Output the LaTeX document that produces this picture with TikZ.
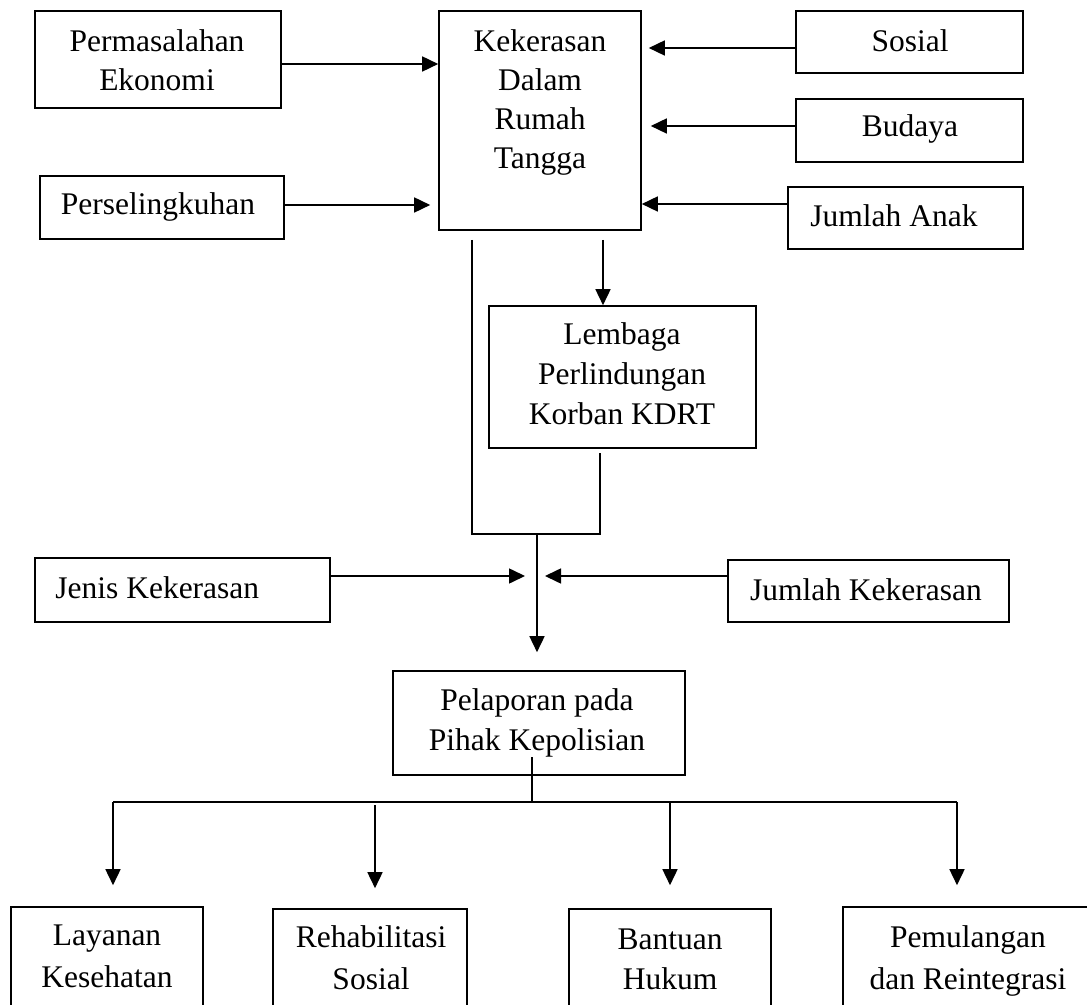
\documentclass[tikz,border=0pt]{standalone}
\usepackage{fontspec}
\setmainfont{Liberation Serif}
\usetikzlibrary{arrows.meta,fit}
\newcommand\mlines[2]{\vtop{\baselineskip=#1\lineskiplimit=-20pt\lineskip=0pt\halign{\hfil##\hfil\cr #2\crcr}}}
\begin{document}
\begin{tikzpicture}[x=0.5pt,y=-0.5pt,
  box/.style={draw, line width=0.8pt, inner sep=0pt},
  txt/.style={inner sep=0pt, anchor=base, font=\fontsize{15.75}{18}\selectfont},
  ln/.style={line width=0.8pt},
  arr/.style={ln, -{Triangle[length=8pt,width=7.5pt]}}]
\useasboundingbox (0,0) rectangle (1087,1005);
\clip (0,0) rectangle (1087,1005);
% boxes
\node[box, fit={(35,11) (281,108)}] (perm) {};
\node[box, fit={(40,176) (284,239)}] (pers) {};
\node[box, fit={(439,11) (641,230)}] (kdrt) {};
\node[box, fit={(796,11) (1023,73)}] (sos) {};
\node[box, fit={(796,99) (1023,162)}] (bud) {};
\node[box, fit={(788,187) (1023,249)}] (ja) {};
\node[box, fit={(489,306) (756,448)}] (lem) {};
\node[box, fit={(35,558) (330,622)}] (jen) {};
\node[box, fit={(728,560) (1009,622)}] (jk) {};
\node[box, fit={(393,671) (685,775)}] (pel) {};
\node[box, fit={(11,907) (203,1040)}] (lay) {};
\node[box, fit={(273,909) (467,1040)}] (reh) {};
\node[box, fit={(569,909) (771,1040)}] (ban) {};
\node[box, fit={(843,907) (1100,1040)}] (pem) {};
% texts
\node[txt] (tperm) at (157,52) {\mlines{19.5pt}{Permasalahan\cr Ekonomi}};
\node[txt] (tpers) at (158,215) {Perselingkuhan};
\node[txt] (tkdrt) at (540,52) {\mlines{19.35pt}{Kekerasan\cr Dalam\cr Rumah\cr Tangga}};
\node[txt] (tsos) at (910,52) {Sosial};
\node[txt] (tbud) at (910,137) {Budaya};
\node[txt, anchor=base west] (tja) at (810,227) {Jumlah Anak};
\node[txt] (tlem) at (622,345) {\mlines{20pt}{Lembaga\cr Perlindungan\cr Korban KDRT}};
\node[txt, anchor=base west] (tjen) at (55,598) {Jenis Kekerasan};
\node[txt] (tjk) at (866,600) {Jumlah Kekerasan};
\node[txt] (tpel) at (537,710) {\mlines{20pt}{Pelaporan pada\cr Pihak Kepolisian}};
\node[txt] (tlay) at (107,945) {\mlines{21pt}{Layanan\cr Kesehatan}};
\node[txt] (treh) at (371,947) {\mlines{21pt}{Rehabilitasi\cr Sosial}};
\node[txt] (tban) at (670,949) {\mlines{20pt}{Bantuan\cr Hukum}};
\node[txt] (tpem) at (968,947) {\mlines{21pt}{Pemulangan\cr dan Reintegrasi}};
% connectors into Kekerasan
\draw[arr] (perm.east |- 0,64) -- (kdrt.west |- 0,64);
\draw[arr, shorten >=4pt] (pers.east |- 0,205) -- (kdrt.west |- 0,205);
\draw[arr, shorten >=3.5pt] (sos.west |- 0,48) -- (kdrt.east |- 0,48);
\draw[arr, shorten >=4.5pt] (bud.west |- 0,126) -- (kdrt.east |- 0,126);
\draw[arr] (ja.west |- 0,204) -- (kdrt.east |- 0,204);
% middle part
\coordinate (k1) at (603,240);
\coordinate (k2) at (472,240);
\coordinate (l1) at (600,453);
\coordinate (j) at (537,534);
\draw[arr] (k1) -- (k1 |- lem.north);
\draw[ln] (k2) -- (k2 |- j) -- (l1 |- j) -- (l1);
\draw[arr, shorten >=9pt] (j) -- (j |- pel.north);
\draw[arr, shorten >=6pt] (jen.east |- 0,576) -- (j |- 0,576);
\draw[arr, shorten >=4pt] (jk.west |- 0,576) -- (j |- 0,576);
% lower part
\coordinate (p1) at (532,757);
\coordinate (h) at (532,802);
\coordinate (hL) at (113,802);
\coordinate (hR) at (957,802);
\coordinate (h2) at (375,805);
\coordinate (h3) at (670,802);
\draw[ln] (p1) -- (h);
\draw[ln] (hL) -- (hR);
\draw[arr, shorten >=10.5pt] (hL) -- (hL |- lay.north);
\draw[arr, shorten >=10pt] (h2) -- (h2 |- reh.north);
\draw[arr, shorten >=11.5pt] (h3) -- (h3 |- ban.north);
\draw[arr, shorten >=10.5pt] (hR) -- (hR |- pem.north);
\end{tikzpicture}
\end{document}
